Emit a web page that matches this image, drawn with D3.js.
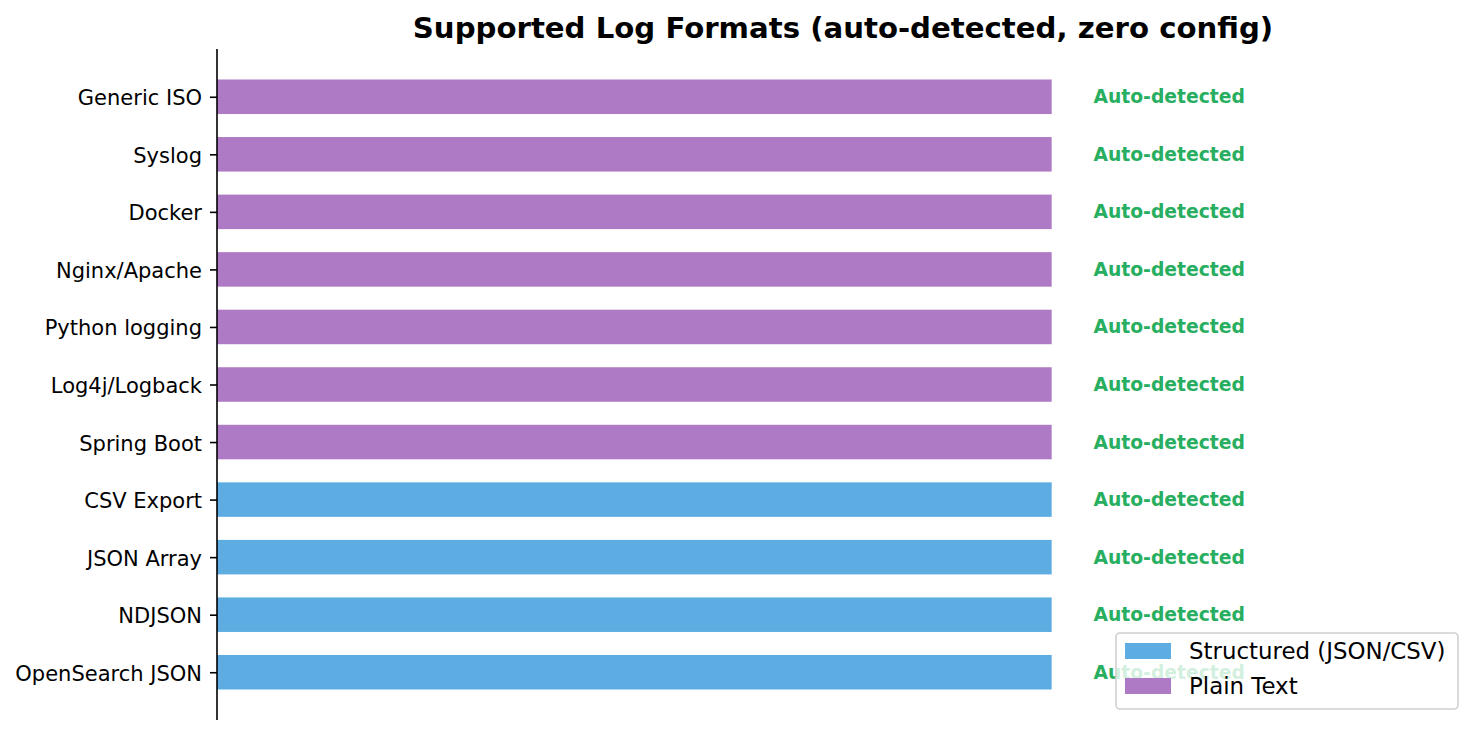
<!DOCTYPE html>
<html><head><meta charset="utf-8">
<script src="https://cdn.jsdelivr.net/npm/d3@7"></script>
<style>body{margin:0;background:#fff}svg{display:block}text{font-family:"DejaVu Sans",sans-serif}</style>
</head><body>
<svg id="c" width="1484" height="735"></svg>
<script>
// Data (bottom to top order as plotted)
const categories = ["OpenSearch JSON","NDJSON","JSON Array","CSV Export","Spring Boot","Log4j/Logback","Python logging","Nginx/Apache","Docker","Syslog","Generic ISO"];
const values = [1,1,1,1,1,1,1,1,1,1,1];
const groups = ["Structured","Structured","Structured","Structured","Plain","Plain","Plain","Plain","Plain","Plain","Plain"];
const statusLabels = categories.map(() => "Auto-detected");
const legendLabels = ["Structured (JSON/CSV)","Plain Text"];
const legendKeys = ["Structured","Plain"];
const title = "Supported Log Formats (auto-detected, zero config)";

(function(){
const colors = {Structured:"#5DADE2", Plain:"#AF7AC5"};
const svg = d3.select("#c");
const mL = 217, mR = 1469, mT = 49, mB = 720;
const x = d3.scaleLinear().domain([0,1.5]).range([mL,mR]);
const y = d3.scaleLinear().domain([-0.83,10.83]).range([mB,mT]);
const bh = (y(0)-y(0.6));

svg.append("g").selectAll("rect").data(categories).join("rect")
  .attr("x", x(0)).attr("y",(d,i)=>y(i+0.3))
  .attr("width",(d,i)=>x(values[i])-x(0)).attr("height",bh)
  .attr("fill",(d,i)=>colors[groups[i]]);

svg.append("g").selectAll("text").data(categories).join("text")
  .attr("x",(d,i)=>x(values[i]+0.05)).attr("y",(d,i)=>y(i))
  .attr("dominant-baseline","central")
  .attr("font-size","18.75px").attr("font-weight","bold").attr("fill","#27AE60")
  .text((d,i)=>statusLabels[i]);

// y axis
const yAxis = d3.axisLeft(y).tickValues(d3.range(categories.length)).tickFormat(i=>categories[i]).tickSize(7).tickPadding(8);
const ga = svg.append("g").attr("transform",`translate(${mL},0)`).call(yAxis);
ga.select(".domain").attr("d",`M0,${mT}V${mB}`).attr("stroke","#000").attr("stroke-width",1.6);
ga.selectAll(".tick line").attr("stroke","#000").attr("stroke-width",1.6);
ga.selectAll(".tick text").attr("font-size","21px").attr("fill","#000").attr("font-family","DejaVu Sans").attr("dy","0.38em");

svg.append("text").attr("x",(mL+mR)/2).attr("y",28).attr("text-anchor","middle")
  .attr("dominant-baseline","central").attr("font-size","29.2px").attr("font-weight","bold").text(title);

// legend
const lg = svg.append("g");
lg.append("rect").attr("x",1116).attr("y",633).attr("width",342).attr("height",76).attr("rx",4)
  .attr("fill","rgba(255,255,255,0.8)").attr("stroke","#d0d0d0").attr("stroke-width",1.6);
legendKeys.forEach((k,i)=>{
  const cy = 651 + i*35;
  lg.append("rect").attr("x",1125).attr("y",cy-8).attr("width",46).attr("height",16).attr("fill",colors[k]);
  lg.append("text").attr("x",1189).attr("y",cy).attr("dominant-baseline","central").attr("font-size","22.9px").attr("fill","#000").text(legendLabels[i]);
});
})();
</script>
</body></html>
